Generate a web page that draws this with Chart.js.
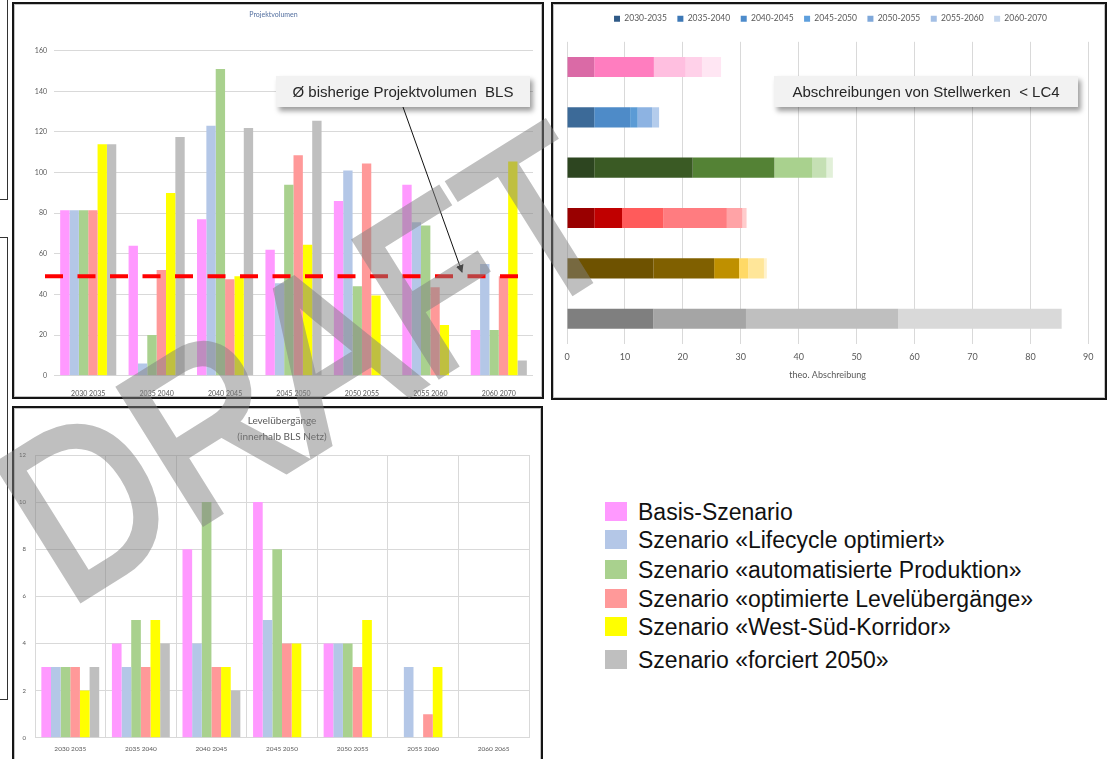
<!DOCTYPE html>
<html>
<head>
<meta charset="utf-8">
<script src="https://cdn.jsdelivr.net/npm/chart.js@4"></script>
<style>
html,body{margin:0;padding:0;background:#fff;width:1113px;height:759px;overflow:hidden;position:relative;font-family:'Liberation Sans',Arial,sans-serif;}
.frame{position:absolute;box-sizing:border-box;border:2px solid #151515;box-shadow:inset 0 0 0 1px #c4c4c4;background:#fff;}
.frame canvas{position:absolute;left:0;top:0;}
.callout{position:absolute;background:#f2f2f2;box-shadow:3px 4px 5px rgba(0,0,0,0.38);font-size:15px;color:#262626;display:flex;align-items:center;justify-content:center;white-space:pre;z-index:5;}
.edge{position:absolute;box-sizing:border-box;border:1.5px solid #333;}
#legend{position:absolute;left:605px;top:0;z-index:4;}
.li{position:absolute;left:0;white-space:nowrap;font-size:23px;color:#111;line-height:1;}
.li span.sq{position:absolute;left:0;width:22px;height:19px;}
.li span.tx{position:absolute;left:33px;}
#wm{position:absolute;left:23.8px;top:425.9px;transform-origin:0 112.4px;transform:rotate(-32deg) scaleX(0.87);font-family:'Liberation Sans',Arial,sans-serif;font-size:230px;line-height:1;color:#808080;-webkit-text-stroke:7px #808080;opacity:0.5;white-space:nowrap;z-index:20;pointer-events:none;}
svg#arrow{position:absolute;left:0;top:0;z-index:6;}
</style>
</head>
<body>
<div class="edge" style="left:-10px;top:-2px;width:18px;height:202px;"></div>
<div class="edge" style="left:-10px;top:237px;width:18px;height:463px;"></div>

<div class="frame" style="left:12px;top:2px;width:532px;height:397px;"><canvas id="c1" width="528" height="393"></canvas></div>
<div class="frame" style="left:551px;top:2px;width:556px;height:398px;"><canvas id="c2" width="552" height="394"></canvas></div>
<div class="frame" style="left:12px;top:406px;width:531px;height:356px;"><canvas id="c3" width="527" height="352"></canvas></div>

<div class="callout" style="left:276px;top:76px;width:254px;height:31px;">Ø bisherige Projektvolumen  BLS</div>
<div class="callout" style="left:774px;top:76px;width:304px;height:31px;">Abschreibungen von Stellwerken  &lt; LC4</div>

<svg id="arrow" width="1113" height="759">
  <defs><marker id="ah" markerWidth="8" markerHeight="8" refX="7" refY="4" orient="auto" markerUnits="userSpaceOnUse"><path d="M0,0 L8,4 L0,8 z" fill="#111"/></marker></defs>
  <line x1="403" y1="107" x2="462" y2="272" stroke="#111" stroke-width="1" marker-end="url(#ah)"/>
</svg>

<div id="legend"></div>
<div id="wm">DRAFT</div>

<script>
// ---------------- Chart 1: Projektvolumen ----------------
const periods1 = ["2030 2035","2035 2040","2040 2045","2045 2050","2050 2055","2055 2060","2060 2070"];
const basis1      = [81.5, 64,   77,  62,    86,    94,   22.5];
const lifecycle1  = [81.5, 6,    123, 45.5,  101,   75.5, 55];
const automat1    = [81.5, 20,   151, 94,    44,    74,   22.5];
const levelOpt1   = [81.5, 52,   47.5,108.5, 104.5, 43.5, 49];
const westSued1   = [114,  90,   49,  64.5,  39.5,  25,   105.5];
const forciert1   = [114,  117.5,122, 125.5, 0,     0,    7.5];
const avgProjektvolumen = 49;

// ---------------- Chart 2: Abschreibungen ----------------
const rows2 = ["Basis-Szenario","Lifecycle optimiert","automatisierte Produktion","optimierte Levelübergänge","West-Süd-Korridor","forciert 2050"];
const periods2 = ["2030-2035","2035-2040","2040-2045","2045-2050","2050-2055","2055-2060","2060-2070"];
const abs2030 = [4.7,  4.7, 4.7,  4.7,  14.9, 14.9];
const abs2035 = [10.3, 6.2, 17.0, 4.8,  10.5, 16.0];
const abs2040 = [5.5,  1.3, 14.1, 7.1,  4.3,  26.3];
const abs2045 = [2.8,  2.5, 6.5,  11.0, 1.6,  28.2];
const abs2050 = [3.3,  1.2, 2.5,  2.7,  2.7,  0];
const abs2055 = [0,    0,   1.1,  0.7,  0.5,  0];
const abs2060 = [0,    0,   0,    0,    0,    0];
const xTicks2 = {min:0, max:90, step:10};

// ---------------- Chart 3: Levelübergänge ----------------
const periods3 = ["2030 2035","2035 2040","2040 2045","2045 2050","2050 2055","2055 2060","2060 2065"];
const basis3     = [3, 4, 8,  10, 4, 0, 0];
const lifecycle3 = [3, 3, 4,  5,  4, 3, 0];
const automat3   = [3, 5, 10, 8,  4, 0, 0];
const levelOpt3  = [3, 3, 3,  4,  3, 1, 0];
const westSued3  = [2, 5, 3,  4,  5, 3, 0];
const forciert3  = [3, 4, 2,  0,  0, 0, 0];

// ---------------- Legend ----------------
const scenarioNames = ["Basis-Szenario","Szenario «Lifecycle optimiert»","Szenario «automatisierte Produktion»","Szenario «optimierte Levelübergänge»","Szenario «West-Süd-Korridor»","Szenario «forciert 2050»"];

// ---------------- Styles ----------------
const scenarioColors = ['#FF99FF','#B4C7E7','#A9D18E','#FF9999','#FFFF00','#BFBFBF'];
const legendColors2 = ['#2F5A87','#3D78B6','#4D8BCB','#5E9FDD','#7FA8DA','#A3BFE5','#C4D6EE'];
const rowColors2 = [
  ['#DA6AA6','#FF7DBF','#FFBFE0','#FFD1E9','#FFE6F3','#FFF0F8','#FFF0F8'],
  ['#3C6A98','#4E8BC8','#5B9BD5','#8DB3E2','#B4CCEC','#D0DFF3','#D0DFF3'],
  ['#2D4520','#3A5A24','#548235','#A9D18E','#C5E0B4','#E2F0D9','#EEF6E8'],
  ['#990000','#C00000','#FF5B5B','#FF7C80','#FFA3A6','#FFCCCC','#FFE5E5'],
  ['#6E5200','#806000','#BF9000','#FFD966','#FFE699','#FFF2CC','#FFF9E6'],
  ['#7F7F7F','#A5A5A5','#BFBFBF','#D9D9D9','#E7E7E7','#F2F2F2','#F2F2F2']
];
const tickColor = '#595959';
const gridColor = '#D9D9D9';

Chart.defaults.font.family = "Lato, 'Liberation Sans', sans-serif";
Chart.defaults.animation = false;

function scenarioDatasets(arrs){
  return arrs.map((d,i)=>({label:scenarioNames[i], data:d, backgroundColor:scenarioColors[i], borderWidth:0}));
}
function spacer(pos, size){
  const o = {type:'linear', position:pos, display:true, ticks:{display:false}, grid:{display:false}, border:{display:false}};
  if (pos==='top'||pos==='bottom') o.afterFit = s => { s.height = size; };
  else o.afterFit = s => { s.width = size; };
  return o;
}

const avgLinePlugin = {
  id:'avgLine',
  afterDatasetsDraw(chart){
    const {ctx, chartArea:a, scales:{y}} = chart;
    const py = y.getPixelForValue(avgProjektvolumen);
    ctx.save();
    ctx.strokeStyle = '#FF0000'; ctx.lineWidth = 4; ctx.setLineDash([18,14.5]);
    ctx.beginPath(); ctx.moveTo(a.left-9, py); ctx.lineTo(a.right-14, py); ctx.stroke();
    ctx.restore();
  }
};

new Chart(document.getElementById('c1'), {
  type:'bar',
  data:{labels:periods1, datasets:scenarioDatasets([basis1,lifecycle1,automat1,levelOpt1,westSued1,forciert1])},
  options:{
    responsive:false,
    layout:{padding:{left:0,right:9,top:0,bottom:0}},
    datasets:{bar:{categoryPercentage:0.82, barPercentage:1}},
    plugins:{
      legend:{display:false}, tooltip:{enabled:false},
      title:{display:true, text:'Projektvolumen', color:'#5470A0', font:{size:7, weight:'normal'}, padding:{top:7,bottom:31.3}}
    },
    scales:{
      x:{grid:{display:false}, border:{display:false}, ticks:{color:tickColor, font:{size:7}, padding:6, maxRotation:0, autoSkip:false}, afterFit(s){s.height=21.3;}},
      y:{min:0, max:160, ticks:{stepSize:20, color:tickColor, font:{size:7}, padding:7}, grid:{color:gridColor, drawTicks:false}, border:{display:false}, afterFit(s){s.width=40;}}
    }
  },
  plugins:[avgLinePlugin]
});

const periodData2 = [abs2030,abs2035,abs2040,abs2045,abs2050,abs2055,abs2060];
new Chart(document.getElementById('c2'), {
  type:'bar',
  data:{labels:rows2, datasets:periods2.map((p,i)=>({label:p, data:periodData2[i], backgroundColor:rowColors2.map(r=>r[i]), borderWidth:0, xAxisID:'x', yAxisID:'y'}))},
  options:{
    responsive:false, indexAxis:'y',
    layout:{padding:{left:3,right:0,top:0,bottom:0}},
    datasets:{bar:{categoryPercentage:0.4, barPercentage:1}},
    plugins:{
      tooltip:{enabled:false},
      legend:{display:true, position:'top', labels:{boxWidth:6, boxHeight:6, padding:10.5, color:tickColor, font:{size:8.5},
        generateLabels(){ return periods2.map((p,i)=>({text:p, fillStyle:legendColors2[i], strokeStyle:legendColors2[i], lineWidth:0, hidden:false, datasetIndex:i, fontColor:tickColor})); }}}
    },
    scales:{
      x:{stacked:true, min:xTicks2.min, max:xTicks2.max, ticks:{stepSize:xTicks2.step, color:tickColor, font:{size:9}, padding:8},
         grid:{color:gridColor, drawTicks:false}, border:{display:false},
         title:{display:true, text:'theo. Abschreibung', color:tickColor, font:{size:9}, padding:{top:4,bottom:17.6}},
         afterFit(s){s.height=54.1;}},
      y:{stacked:true, ticks:{display:false}, grid:{display:false}, border:{display:false}, afterFit(s){s.width=11;}},
      xTop:spacer('top', 8.8),
      yRight:spacer('right', 16.7)
    }
  }
});

new Chart(document.getElementById('c3'), {
  type:'bar',
  data:{labels:periods3, datasets:scenarioDatasets([basis3,lifecycle3,automat3,levelOpt3,westSued3,forciert3])},
  options:{
    responsive:false,
    layout:{padding:{left:0,right:12,top:0,bottom:0}},
    datasets:{bar:{categoryPercentage:0.82, barPercentage:1}},
    plugins:{
      legend:{display:false}, tooltip:{enabled:false},
      title:{display:true, fullSize:false, text:['Levelübergänge','(innerhalb BLS Netz)'], color:'#595959', font:{size:10, weight:'normal', lineHeight:1.6}, padding:{top:5,bottom:10}}
    },
    scales:{
      x:{grid:{color:gridColor, drawTicks:false}, border:{display:false}, ticks:{color:tickColor, font:{size:6.5}, padding:7, maxRotation:0, autoSkip:false}, afterFit(s){s.height=22.3;}},
      y:{min:0, max:12, ticks:{stepSize:2, color:tickColor, font:{size:6}, padding:9}, grid:{color:gridColor, drawTicks:false}, border:{display:false}, afterFit(s){s.width=21;}}
    }
  }
});

// HTML legend panel
const legendTops = [501.5, 530, 559.5, 588.5, 617, 650];
const lg = document.getElementById('legend');
scenarioNames.forEach((n,i)=>{
  const d = document.createElement('div');
  d.className = 'li';
  d.style.top = legendTops[i] + 'px';
  d.innerHTML = '<span class="sq" style="background:'+scenarioColors[i]+'"></span><span class="tx"></span>';
  d.querySelector('.tx').textContent = n;
  d.querySelector('.tx').style.top = '-1px';
  lg.appendChild(d);
});
</script>
</body>
</html>
